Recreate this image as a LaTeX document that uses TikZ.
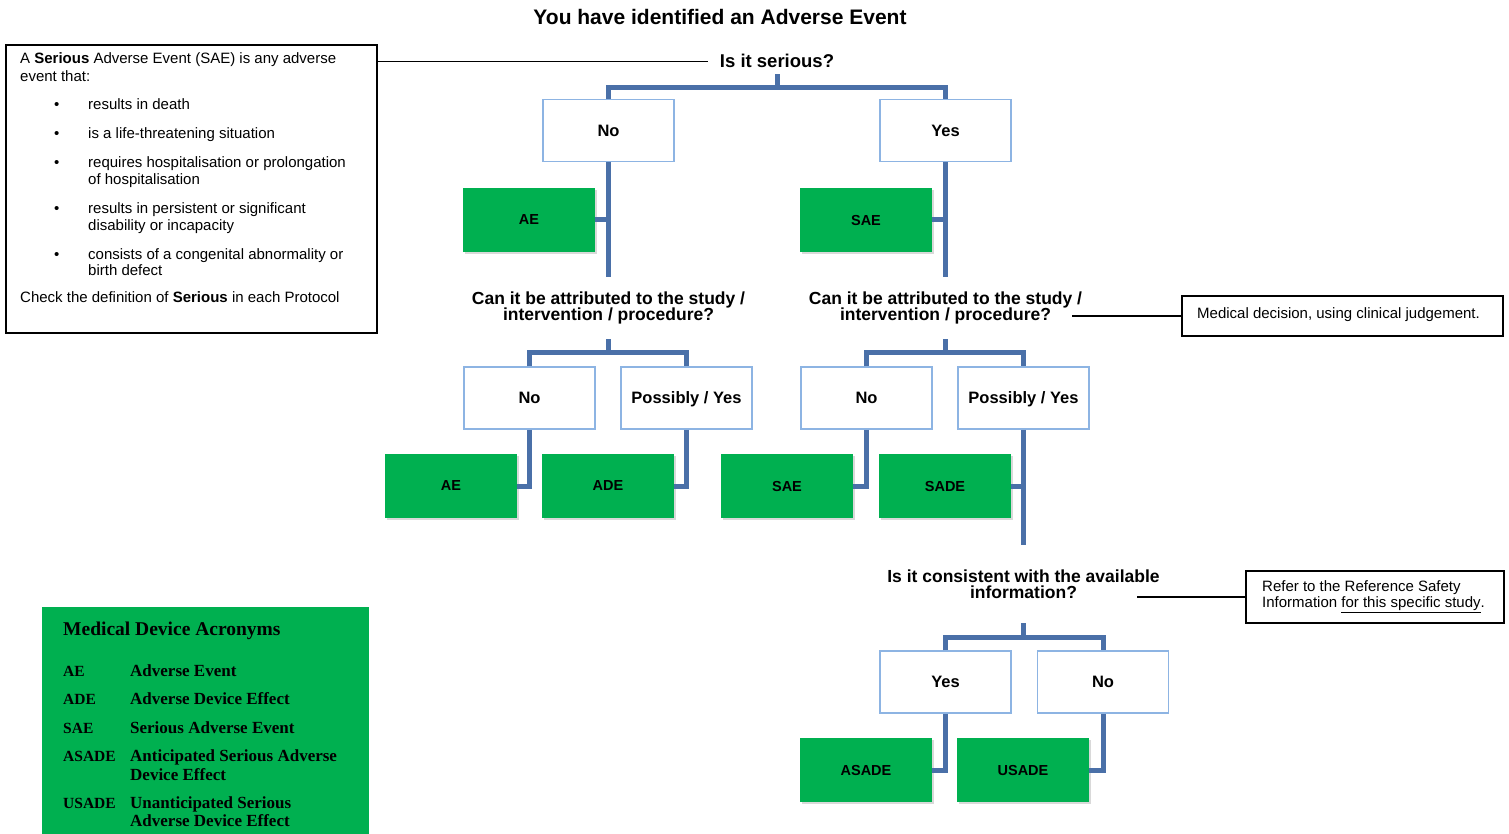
\documentclass[tikz,border=0pt]{standalone}
\usepackage{fontspec}
\setmainfont{Liberation Sans}
\newfontfamily\acrfont{Liberation Serif}
\usetikzlibrary{shadows}
\definecolor{treeblue}{RGB}{74,112,168}
\definecolor{choiceblue}{RGB}{141,180,227}
\definecolor{sagreen}{RGB}{0,176,80}
\tikzset{
  choice/.style={draw=choiceblue, line width=1.5pt, fill=white, minimum width=131pt, minimum height=62pt, text depth=0pt, font=\fontsize{16.5}{18}\selectfont\bfseries},
  outcome/.style={fill=sagreen, minimum width=132pt, minimum height=64pt, text depth=0pt, font=\fontsize{14.5}{16}\selectfont\bfseries, drop shadow={opacity=0.3, shadow xshift=1.5pt, shadow yshift=-2pt}},
  question/.style={align=center, inner xsep=2pt, font=\fontsize{17.5}{16.5}\selectfont\bfseries},
  tree/.style={draw=treeblue, line width=5pt},
  thinline/.style={line width=1.2pt},
  notebox/.style={draw, line width=1.3pt},
  deftext/.style={anchor=base west, inner sep=0pt, font=\fontsize{15}{17}\selectfont},
  acrtext/.style={anchor=base west, inner sep=0pt, font=\acrfont\bfseries\fontsize{17}{19}\selectfont},
  acrshort/.style={acrtext, font=\acrfont\bfseries\fontsize{15.5}{19}\selectfont},
}
\begin{document}
\begin{tikzpicture}[x=1pt,y=-1pt]
\useasboundingbox (0,0) rectangle (1509,834);
\node[anchor=base, font=\fontsize{21}{24}\selectfont\bfseries] (title) at (720,25) {You have identified an Adverse Event};

\node[notebox, minimum width=371pt, minimum height=288pt] (defbox) at (191.5,189) {};
\node[deftext] (def1) at (20,63.5) {A \textbf{Serious} Adverse Event (SAE) is any adverse};
\node[deftext] (def2) at (20,81.5) {event that:};
\foreach \y/\lbl [count=\i] in {109.5/results in death, 138.5/is a life-threatening situation, 167.5/requires hospitalisation or prolongation, 213.5/results in persistent or significant, 259.5/consists of a congenital abnormality or}
  {\node[deftext] (bul\i) at (54,\y) {\textbullet}; \node[deftext] (item\i) at (88,\y) {\lbl};}
\foreach \y/\lbl [count=\i] in {184.5/of hospitalisation, 230.5/disability or incapacity, 275.5/birth defect}
  \node[deftext] (more\i) at (88,\y) {\lbl};
\node[deftext] (def3) at (20,302.5) {Check the definition of \textbf{Serious} in each Protocol};

\node[anchor=base, inner xsep=0pt, inner ysep=6pt, font=\fontsize{18.5}{20}\selectfont\bfseries] (serious) at (777,68) {Is it serious?};
\draw[thinline] (defbox.east |- serious.west) -- ([xshift=-12pt]serious.west);

\node[choice] (q1no) at (608.5,130.5) {No};
\node[choice] (q1yes) at (945.5,130.5) {Yes};
\node[outcome] (ae1) at (529,220) {AE};
\node[outcome] (sae1) at (866,220) {SAE};
\node[question, minimum height=62pt] (q2a) at (608.5,308) {Can it be attributed to the study /\\intervention / procedure?};
\node[question, minimum height=62pt] (q2b) at (945.5,308) {Can it be attributed to the study /\\intervention / procedure?};
\node[choice] (q2ano) at (529.5,398) {No};
\node[choice] (q2ayes) at (686.5,398) {Possibly / Yes};
\node[choice] (q2bno) at (866.5,398) {No};
\node[choice] (q2byes) at (1023.5,398) {Possibly / Yes};
\node[outcome] (ae2) at (451,486) {AE};
\node[outcome] (ade) at (608,486) {ADE};
\node[outcome] (sae2) at (787,486) {SAE};
\node[outcome] (sade) at (945,486) {SADE};
\node[question, minimum height=78pt] (q3) at (1023.5,584) {Is it consistent with the available\\information?};
\node[choice] (q3yes) at (945.5,682) {Yes};
\node[choice] (q3no) at (1103,682) {No};
\node[outcome] (asade) at (866,770) {ASADE};
\node[outcome] (usade) at (1023,770) {USADE};

\coordinate (j1) at (777,88);
\coordinate (j2a) at (608.5,352);
\coordinate (j2b) at (945.5,352);
\coordinate (j3) at (1023.5,637);
\draw[tree] (serious.south) -- (j1);
\draw[tree] (q1no.north) |- (j1) -| (q1yes.north);
\draw[tree] (q1no.south) -- (q2a.north);
\draw[tree] (q1yes.south) -- (q2b.north);
\draw[tree] (ae1.east) -- (ae1.east -| q1no.south);
\draw[tree] (sae1.east) -- (sae1.east -| q1yes.south);
\draw[tree] (q2a.south) -- (j2a);
\draw[tree] (q2ano.north) |- (j2a) -| (q2ayes.north);
\draw[tree] (q2b.south) -- (j2b);
\draw[tree] (q2bno.north) |- (j2b) -| (q2byes.north);
\draw[tree] (q2byes.south) -- (q3.north);
\draw[tree] (sade.east) -- (sade.east -| q2byes.south);
\draw[tree] (q3.south) -- (j3);
\draw[tree] (q3yes.north) |- (j3) -| (q3no.north);
\foreach \a/\b in {q2ano/ae2, q2ayes/ade, q2bno/sae2, q3yes/asade, q3no/usade}
  \draw[tree] (\a.south) |- (\b.east);

\node[notebox, minimum width=321pt, minimum height=40pt] (note1) at (1342.5,316) {};
\node[deftext] (note1txt) at (1197,318) {Medical decision, using clinical judgement.};
\draw[thinline] (note1.west) -- ++(-109,0);
\node[notebox, minimum width=258pt, minimum height=52pt] (note2) at (1375,597) {};
\node[deftext] (note2a) at (1262,591.5) {Refer to the Reference Safety};
\node[deftext] (note2b) at (1262,607.5) {Information \underline{for this specific study}.};
\draw[thinline] (note2.west) -- ++(-108,0);

\node[fill=sagreen, minimum width=327pt, minimum height=228pt, inner sep=0pt] (acrbox) at (205.5,721) {};
\node[acrtext, font=\acrfont\bfseries\fontsize{19.5}{22}\selectfont] (acrhead) at (63,635) {Medical Device Acronyms};
\foreach \y/\a/\b [count=\i] in {676/AE/Adverse Event, 704/ADE/Adverse Device Effect, 733/SAE/Serious Adverse Event, 761.5/ASADE/Anticipated Serious Adverse, 808/USADE/Unanticipated Serious}
  {\node[acrshort] (acr\i) at (63,\y) {\a}; \node[acrtext] (acrdef\i) at (130,\y) {\b};}
\node[acrtext] (acrmore1) at (130,780) {Device Effect};
\node[acrtext] (acrmore2) at (130,826) {Adverse Device Effect};
\end{tikzpicture}
\end{document}
